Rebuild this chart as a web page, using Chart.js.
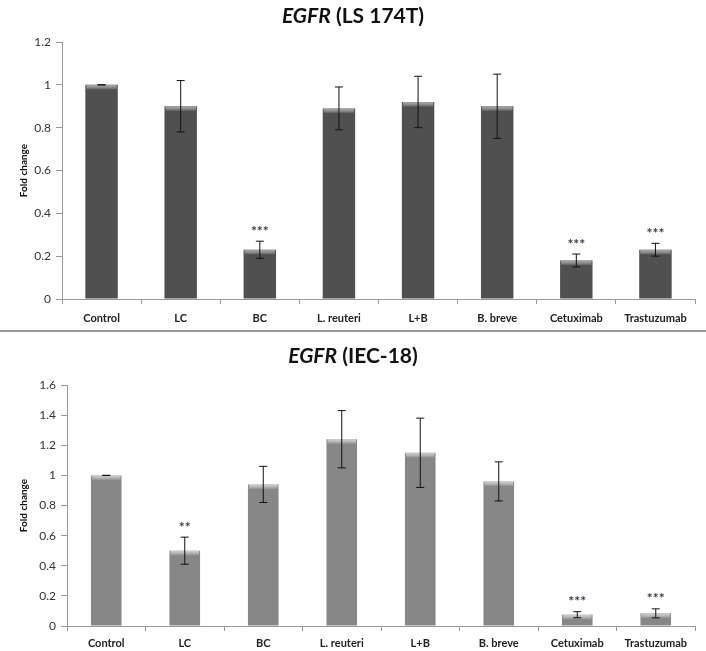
<!DOCTYPE html>
<html>
<head>
<meta charset="utf-8">
<script src="https://cdn.jsdelivr.net/npm/chart.js@4.4.1/dist/chart.umd.min.js"></script>
<style>
  body { margin: 0; background: #fff; width: 706px; height: 651px; position: relative; overflow: hidden; font-family: Lato, "Open Sans", sans-serif; }
  .panel { position: absolute; left: 0; width: 706px; }
  .title { position: absolute; left: 0; width: 706px; text-align: center; font-weight: bold; font-size: 21px; color: #111; }
  .sep { position: absolute; left: 0; top: 330px; width: 706px; height: 2px; background: #9a9a9a; }
</style>
</head>
<body>
<div class="panel" style="top:0;height:330px"><canvas id="ls" width="706" height="330"></canvas></div>
<div class="panel" style="top:330px;height:321px"><canvas id="iec" width="706" height="321"></canvas></div>
<div class="title" style="top:2px"><i>EGFR</i> (LS 174T)</div>
<div class="sep"></div>
<div class="title" style="top:342px"><i>EGFR</i> (IEC-18)</div>
<script>
// categories shared by both panels
const categories = ['Control', 'LC', 'BC', 'L. reuteri', 'L+B', 'B. breve', 'Cetuximab', 'Trastuzumab'];

// LS 174T panel
const lsValues = [1.0, 0.90, 0.23, 0.89, 0.92, 0.90, 0.18, 0.23];
const lsErrors = [0, 0.12, 0.04, 0.10, 0.12, 0.15, 0.03, 0.03];
const lsStars = ['', '', '***', '', '', '', '***', '***'];
const lsMax = 1.2;

// IEC-18 panel
const iecValues = [1.0, 0.50, 0.94, 1.24, 1.15, 0.96, 0.075, 0.084];
const iecErrors = [0, 0.09, 0.12, 0.19, 0.23, 0.13, 0.02, 0.03];
const iecStars = ['', '**', '', '', '', '', '***', '***'];
const iecMax = 1.6;

const tickStep = 0.2;

//draws error bars, significance stars and the bevel on top of each bar
const extrasPlugin = {
    id: 'extras',
    afterDatasetsDraw(chart, args, opts) {
        const ctx = chart.ctx;
        const yScale = chart.scales.y;
        const meta = chart.getDatasetMeta(0);
        ctx.save();
        meta.data.forEach(function(bar, i){
            const half = bar.width / 2;
            //light band on top of bar
            const grad = ctx.createLinearGradient(0, bar.y, 0, bar.y + 5);
            grad.addColorStop(0, opts.highlight);
            grad.addColorStop(1, 'rgba(255,255,255,0)');
            ctx.fillStyle = grad;
            ctx.fillRect(bar.x - half + 1, bar.y, bar.width - 2, 5);

            //error bar
            const v = opts.values[i], e = opts.errors[i];
            const yTop = yScale.getPixelForValue(v + e);
            const yBot = yScale.getPixelForValue(v - e);
            ctx.strokeStyle = '#111';
            ctx.lineWidth = 1;
            ctx.beginPath();
            ctx.moveTo(bar.x, yTop); ctx.lineTo(bar.x, yBot);
            ctx.moveTo(bar.x - 4, yTop); ctx.lineTo(bar.x + 4, yTop);
            ctx.moveTo(bar.x - 4, yBot); ctx.lineTo(bar.x + 4, yBot);
            ctx.stroke();

            //stars
            if (opts.stars[i]) {
                ctx.fillStyle = '#3a3a4a';
                ctx.font = 'bold 14px Lato, sans-serif';
                ctx.textAlign = 'center';
                ctx.textBaseline = 'middle';
                ctx.fillText(opts.stars[i], bar.x, yTop - 10);
            }
        });
        ctx.restore();
    }
};

function makeChart(id, values, errors, stars, yMax, color, highlight, left, top, xHeight, labelPad, barPct) {
    return new Chart(document.getElementById(id), {
        type: 'bar',
        data: {
            labels: categories,
            datasets: [{
                data: values,
                backgroundColor: color,
                borderWidth: 0,
                barPercentage: barPct,
                categoryPercentage: 1
            }]
        },
        plugins: [extrasPlugin],
        options: {
            responsive: false,
            animation: false,
            layout: { padding: { top: top, right: 11, left: 0, bottom: 0 } },
            plugins: {
                legend: { display: false },
                tooltip: { enabled: false },
                extras: { values: values, errors: errors, stars: stars, highlight: highlight }
            },
            scales: {
                x: {
                    offset: true,
                    grid: { offset: true, drawOnChartArea: false, tickLength: 5, color: '#999' },
                    border: { color: '#999', width: 1 },
                    ticks: { color: '#222', font: { family: 'Lato, sans-serif', size: 11, weight: 'bold' }, padding: labelPad, maxRotation: 0, autoSkip: false },
                    afterFit: function(scale){ scale.height = xHeight; }
                },
                y: {
                    min: 0,
                    max: yMax,
                    ticks: {
                        stepSize: tickStep, color: '#333', font: { family: 'Lato, sans-serif', size: 12 }, padding: 5,
                        callback: function(v){ return String(Number(v.toFixed(1))); }
                    },
                    grid: { drawOnChartArea: false, tickLength: 6, color: '#999' },
                    border: { color: '#999', width: 1 },
                    title: { display: true, text: 'Fold change', color: '#111', font: { family: 'Lato, sans-serif', size: 10, weight: 'bold' }, padding: { top: 18, bottom: 0 } },
                    afterFit: function(scale){ scale.width = left; }
                }
            }
        }
    });
}

makeChart('ls', lsValues, lsErrors, lsStars, lsMax, '#505050', 'rgba(170,170,170,0.9)', 62, 42, 31, 8, 0.41);
makeChart('iec', iecValues, iecErrors, iecStars, iecMax, '#878787', 'rgba(215,215,215,0.9)', 67, 55, 25, 6, 0.39);
</script>
</body>
</html>
